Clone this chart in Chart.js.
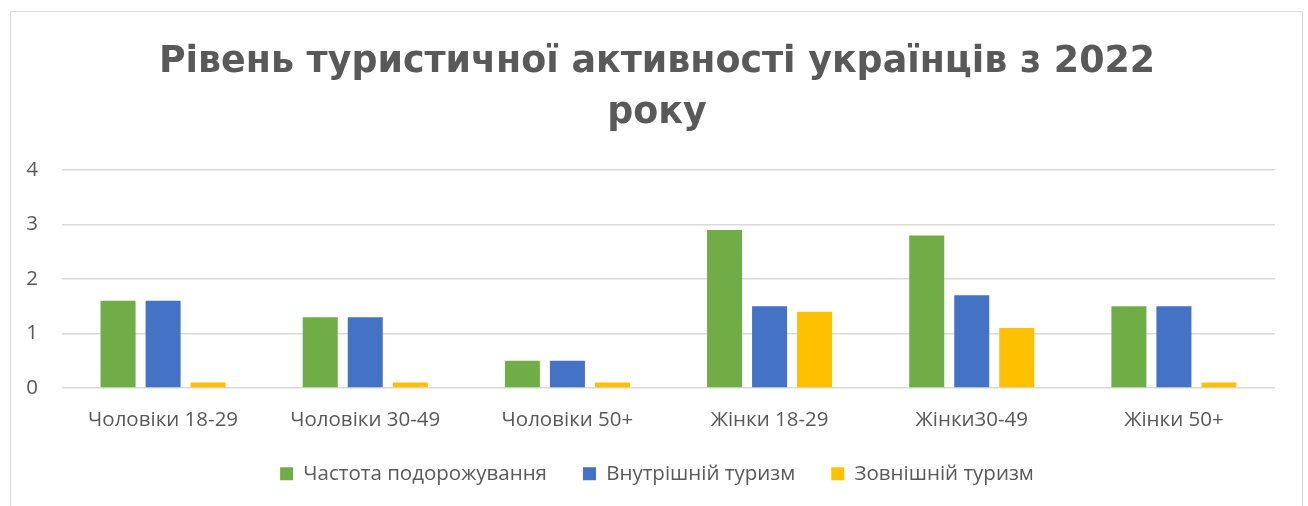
<!DOCTYPE html>
<html>
<head>
<meta charset="utf-8">
<script src="https://cdn.jsdelivr.net/npm/chart.js@4/dist/chart.umd.min.js"></script>
<style>
html,body{margin:0;padding:0;background:#fff;}
#wrap{position:relative;width:1308px;height:506px;}
</style>
</head>
<body>
<div id="wrap"><canvas id="c" width="1308" height="506"></canvas></div>
<script>
const categories = ["Чоловіки 18-29", "Чоловіки 30-49", "Чоловіки 50+", "Жінки 18-29", "Жінки30-49", "Жінки 50+"];
const travelFrequency = [1.6, 1.3, 0.5, 2.9, 2.8, 1.5];
const domesticTourism = [1.6, 1.3, 0.5, 1.5, 1.7, 1.5];
const foreignTourism = [0.1, 0.1, 0.1, 1.4, 1.1, 0.1];
const seriesNames = ["Частота подорожування", "Внутрішній туризм", "Зовнішній туризм"];
const titleLines = ["Рівень туристичної активності українців з 2022", "року"];
const yTicks = [0, 1, 2, 3, 4];

const borderPlugin = {
  id: 'frame',
  beforeDraw(chart) {
    const ctx = chart.ctx;
    ctx.save();
    ctx.fillStyle = '#ffffff';
    ctx.fillRect(0, 0, chart.width, chart.height);
    ctx.strokeStyle = '#d9d9d9';
    ctx.lineWidth = 1;
    ctx.strokeRect(10.5, 11.5, 1292, 520);
    ctx.restore();
  }
};

const labelFont = { family: "'Open Sans', 'Noto Sans', sans-serif", size: 20.5 };

new Chart(document.getElementById('c'), {
  type: 'bar',
  data: {
    labels: categories,
    datasets: [
      { label: seriesNames[0], data: travelFrequency, backgroundColor: '#70ad47' },
      { label: seriesNames[1], data: domesticTourism, backgroundColor: '#4472c4' },
      { label: seriesNames[2], data: foreignTourism, backgroundColor: '#ffc000' }
    ]
  },
  options: {
    responsive: false,
    animation: false,
    devicePixelRatio: 1,
    layout: { padding: { top: 0, left: 6, right: 0, bottom: 12 } },
    datasets: { bar: { categoryPercentage: 0.668, barPercentage: 0.778 } },
    plugins: {
      tooltip: { enabled: false },
      title: {
        display: true,
        text: titleLines,
        color: '#595959',
        font: { family: "'DejaVu Sans', sans-serif", size: 36.4, weight: 'bold', lineHeight: 1.4 },
        padding: { top: 37, bottom: 31.08 }
      },
      legend: {
        position: 'bottom',
        labels: {
          color: '#595959',
          font: labelFont,
          boxWidth: 13,
          boxHeight: 13,
          padding: 36
        }
      }
    },
    scales: {
      x: {
        grid: { display: false, drawTicks: false },
        border: { display: false },
        ticks: { color: '#595959', font: labelFont, padding: 20, maxRotation: 0 },
        afterFit(scale) { scale.height = 39.5; }
      },
      y: {
        min: 0,
        max: 4,
        afterBuildTicks(scale) { scale.ticks = yTicks.map(v => ({ value: v })); },
        grid: { color: '#d9d9d9', lineWidth: 1.5, drawTicks: false },
        border: { display: false },
        ticks: { color: '#595959', font: labelFont, padding: 24 },
        afterFit(scale) { scale.width = 56; }
      },
      yRight: {
        position: 'right',
        min: 0,
        max: 4,
        grid: { display: false, drawTicks: false },
        border: { display: false },
        ticks: { display: false },
        afterFit(scale) { scale.width = 33; }
      }
    }
  },
  plugins: [borderPlugin]
});
</script>
</body>
</html>
